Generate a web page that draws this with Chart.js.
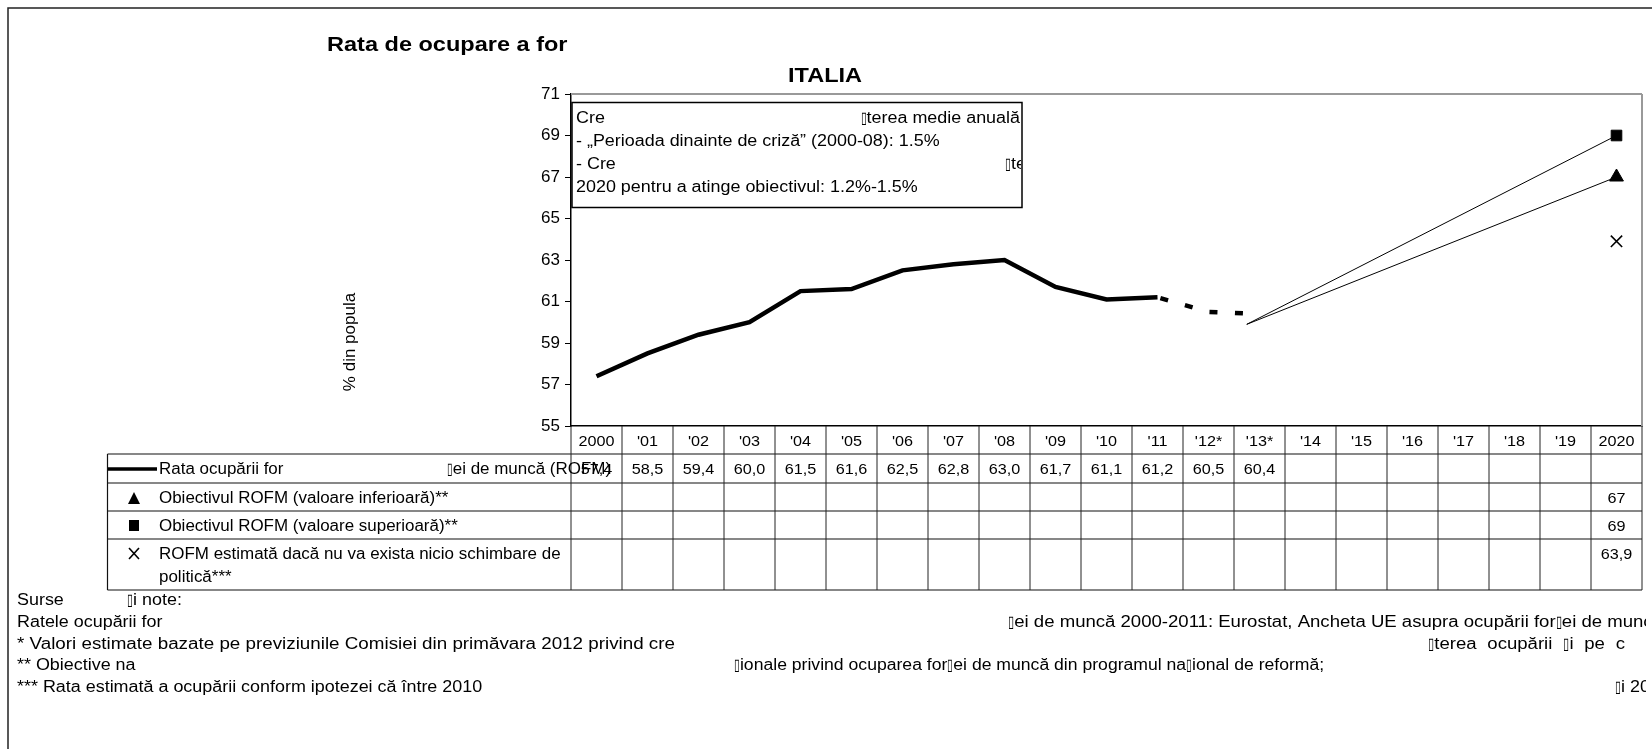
<!DOCTYPE html>
<html>
<head>
<meta charset="utf-8">
<script src="https://cdn.jsdelivr.net/npm/chart.js@4.4.0/dist/chart.umd.min.js"></script>
<style>
  html, body { margin: 0; padding: 0; background: #fff; }
  #wrap { width: 1652px; height: 749px; }
</style>
</head>
<body>
<div id="wrap"><canvas id="chart" width="1652" height="749"></canvas></div>
<script>
// data
const categories = ['2000', "'01", "'02", "'03", "'04", "'05", "'06", "'07", "'08", "'09", "'10",
  "'11", "'12*", "'13*", "'14", "'15", "'16", "'17", "'18", "'19", '2020'];
const rofmValues = [57.4, 58.5, 59.4, 60.0, 61.5, 61.6, 62.5, 62.8, 63.0, 61.7, 61.1, 61.2, 60.5, 60.4];
const lastObserved = 11;      // '11, after this the values are estimates
const pathStartPos = 12.75;   // the thin target paths start a little before '13*
const pathStart = 59.9;
const targetLow = 67;
const targetHigh = 69;
const noPolicyChange = 63.9;
const yMin = 55, yMax = 71, yStep = 2;

const n = categories.length;
const last = n - 1;
const solidLine = categories.map((c, i) => i <= lastObserved ? rofmValues[i] : null);
const dottedLine = categories.map((c, i) => i >= lastObserved && i < rofmValues.length ? rofmValues[i] : null);
const pathHigh = [{ x: pathStartPos, y: pathStart }, { x: last, y: targetHigh }];
const pathLow = [{ x: pathStartPos, y: pathStart }, { x: last, y: targetLow }];
const onlyLast = v => categories.map((c, i) => i === last ? v : null);

const FONT = '"Liberation Sans", Arial, sans-serif';
const BOX = '\u25AF';
const BOX_NARROW = 0.6;

function setFont(ctx, size, bold) {
  ctx.font = (bold ? 'bold ' : '') + size + 'px ' + FONT;
}

function measure(ctx, s, sx) {
  return s.split(/(\u25AF)/).filter(p => p.length)
    .reduce((a, p) => a + ctx.measureText(p).width * sx * (p === BOX ? BOX_NARROW : 1), 0);
}

// text is a bit wider than plain Arial in the original, so stretch it sideways
function txt(ctx, s, x, y, size, sx, opts) {
  opts = opts || {};
  ctx.save();
  setFont(ctx, size, opts.bold);
  ctx.fillStyle = '#000';
  ctx.textBaseline = 'alphabetic';
  ctx.textAlign = 'left';
  const w = measure(ctx, s, sx);
  let x0 = x;
  if (opts.align === 'center') x0 = x - w / 2;
  if (opts.align === 'right') x0 = x - w;
  s.split(/(\u25AF)/).filter(p => p.length).forEach(p => {
    const k = sx * (p === BOX ? BOX_NARROW : 1);
    ctx.save();
    ctx.translate(x0, y);
    ctx.scale(k, 1);
    ctx.fillText(p, 0, 0);
    ctx.restore();
    x0 += ctx.measureText(p).width * k;
  });
  ctx.restore();
}

// spread the words of s between x1 and x2 (justified line)
function txtJustify(ctx, s, x1, x2, y, size, sx) {
  ctx.save();
  setFont(ctx, size);
  const words = s.split(' ');
  const ws = words.map(wd => measure(ctx, wd, sx));
  const gap = (x2 - x1 - ws.reduce((a, b) => a + b, 0)) / (words.length - 1);
  ctx.restore();
  let x = x1;
  words.forEach((wd, k) => {
    txt(ctx, wd, x, y, size, sx);
    x += ws[k] + gap;
  });
}

function line(ctx, x1, y1, x2, y2, w, color) {
  ctx.save();
  ctx.strokeStyle = color || '#000';
  ctx.lineWidth = w;
  ctx.beginPath();
  ctx.moveTo(x1, y1);
  ctx.lineTo(x2, y2);
  ctx.stroke();
  ctx.restore();
}

const BOX_SX = 1.12;   // annotation box
const TAB_SX = 1.06;   // table legend
const NUM_SX = 1.08;   // table numbers
const NOTE_SX = 1.12;  // notes under the table

const tablePlugin = {
  id: 'tablePlugin',
  afterDraw(chart) {
    const ctx = chart.ctx;
    const ca = chart.chartArea;
    const xs = chart.scales.x;
    const half = (xs.getPixelForValue(1) - xs.getPixelForValue(0)) / 2;

    // outer frame (top and left only visible)
    ctx.save();
    ctx.strokeStyle = '#222';
    ctx.lineWidth = 1.5;
    ctx.beginPath();
    ctx.moveTo(8, 749);
    ctx.lineTo(8, 8);
    ctx.lineTo(1652, 8);
    ctx.stroke();
    ctx.restore();

    // plot area top and right edge
    line(ctx, ca.left, ca.top, ca.right, ca.top, 2, '#999');
    line(ctx, ca.right, ca.top, ca.right, ca.bottom, 2, '#999');

    // titles
    txt(ctx, 'Rata de ocupare a for', 327, 51, 21, 1.12, { bold: true });
    txt(ctx, 'ITALIA', 825, 82, 21, 1.12, { bold: true, align: 'center' });

    // y axis title
    ctx.save();
    ctx.translate(350, 342);
    ctx.rotate(-Math.PI / 2);
    ctx.font = '17px ' + FONT;
    ctx.fillStyle = '#000';
    ctx.textAlign = 'center';
    ctx.textBaseline = 'middle';
    ctx.fillText('% din popula', 0, 0);
    ctx.restore();

    // annotation box
    const bx1 = 572, by1 = 102.5, bx2 = 1022, by2 = 207.5;
    ctx.save();
    ctx.fillStyle = '#fff';
    ctx.fillRect(bx1, by1, bx2 - bx1, by2 - by1);
    ctx.strokeStyle = '#000';
    ctx.lineWidth = 1.5;
    ctx.strokeRect(bx1, by1, bx2 - bx1, by2 - by1);
    ctx.beginPath();
    ctx.rect(bx1, by1, bx2 - bx1 - 1, by2 - by1);
    ctx.clip();
    txt(ctx, 'Cre', 576, 123, 16, BOX_SX);
    txt(ctx, BOX + 'terea medie anual\u0103', 1020, 123, 16, BOX_SX, { align: 'right' });
    txt(ctx, '- \u201EPerioada dinainte de criz\u0103\u201D (2000-08): 1.5%', 576, 146, 16, BOX_SX);
    txt(ctx, '- Cre', 576, 168.5, 16, BOX_SX);
    txt(ctx, BOX + 'terea', 1005, 168.5, 16, BOX_SX);
    txt(ctx, '2020 pentru a atinge obiectivul: 1.2%-1.5%', 576, 191.5, 16, BOX_SX);
    ctx.restore();

    // data table
    const tLeft = 107.5;
    const rows = [ca.bottom, 454, 483, 511, 539, 590];
    for (let r = 1; r < rows.length; r++) line(ctx, tLeft, rows[r], ca.right, rows[r], 1.2, '#111');
    line(ctx, tLeft, rows[1], tLeft, rows[5], 1.2, '#111');
    for (let i = 0; i <= n; i++) {
      const x = i < n ? xs.getPixelForValue(i) - half : ca.right;
      line(ctx, x, ca.bottom, x, rows[5], 1, '#222');
    }
    categories.forEach((c, i) => {
      txt(ctx, c, xs.getPixelForValue(i), 446, 15, NUM_SX, { align: 'center' });
    });
    rofmValues.forEach((v, i) => {
      txt(ctx, v.toFixed(1).replace('.', ','), xs.getPixelForValue(i), 474, 15, NUM_SX, { align: 'center' });
    });
    const xl = xs.getPixelForValue(last);
    txt(ctx, String(targetLow).replace('.', ','), xl, 503, 15, NUM_SX, { align: 'center' });
    txt(ctx, String(targetHigh).replace('.', ','), xl, 531, 15, NUM_SX, { align: 'center' });
    txt(ctx, String(noPolicyChange).replace('.', ','), xl, 559, 15, NUM_SX, { align: 'center' });

    // legend column
    line(ctx, 108, 469, 157, 469, 3.5, '#000');
    txt(ctx, 'Rata ocup\u0103rii for', 159, 474, 16, TAB_SX);
    txt(ctx, BOX + 'ei de munc\u0103 (ROFM)', 447, 474, 16, TAB_SX);

    ctx.save();
    ctx.fillStyle = '#000';
    ctx.beginPath();
    ctx.moveTo(128, 504);
    ctx.lineTo(140, 504);
    ctx.lineTo(134, 492);
    ctx.closePath();
    ctx.fill();
    ctx.fillRect(129, 520, 10, 11);
    ctx.restore();
    line(ctx, 129, 548, 139, 559, 1.6, '#000');
    line(ctx, 139, 548, 129, 559, 1.6, '#000');

    txt(ctx, 'Obiectivul ROFM (valoare inferioar\u0103)**', 159, 503, 16, TAB_SX);
    txt(ctx, 'Obiectivul ROFM (valoare superioar\u0103)**', 159, 531, 16, TAB_SX);
    txt(ctx, 'ROFM estimat\u0103 dac\u0103 nu va exista nicio schimbare de', 159, 559, 16, TAB_SX);
    txt(ctx, 'politic\u0103***', 159, 582, 16, TAB_SX);

    // notes
    ctx.save();
    ctx.beginPath();
    ctx.rect(0, 592, 1646, 157);
    ctx.clip();
    txt(ctx, 'Surse', 17, 605, 16, NOTE_SX);
    txt(ctx, BOX + 'i note:', 127, 605, 16, NOTE_SX);
    txt(ctx, 'Ratele ocup\u0103rii for', 17, 627, 16, NOTE_SX);
    txt(ctx, BOX + 'ei de munc\u0103 2000-2011: Eurostat, Ancheta UE asupra ocup\u0103rii for' + BOX + 'ei de munc\u0103', 1008, 627, 16, 1.16);
    txt(ctx, '* Valori estimate bazate pe previziunile Comisiei din prim\u0103vara 2012 privind cre', 17, 649, 16, 1.175);
    txtJustify(ctx, BOX + 'terea ocup\u0103rii ' + BOX + 'i pe c', 1428, 1625, 649, 16, 1.16);
    txt(ctx, '** Obiective na', 17, 670, 16, NOTE_SX);
    txt(ctx, BOX + 'ionale privind ocuparea for' + BOX + 'ei de munc\u0103 din programul na' + BOX + 'ional de reform\u0103;', 734, 670, 16, 1.1);
    txt(ctx, '*** Rata estimat\u0103 a ocup\u0103rii conform ipotezei c\u0103 \u00EEntre 2010', 17, 692, 16, NOTE_SX);
    txt(ctx, BOX + 'i 2020', 1615, 692, 16, NOTE_SX);
    ctx.restore();
  }
};

new Chart(document.getElementById('chart').getContext('2d'), {
  type: 'line',
  data: {
    labels: categories,
    datasets: [
      { label: 'ROFM', data: solidLine, borderColor: '#000', borderWidth: 4.5, pointRadius: 0, tension: 0 },
      { label: 'ROFM estimat', data: dottedLine, borderColor: '#000', borderWidth: 4.5,
        borderDash: [8, 17.5], borderDashOffset: -3, pointRadius: 0 },
      { label: 'drum sup', data: pathHigh, xAxisID: 'xi', borderColor: '#000', borderWidth: 1, pointRadius: 0 },
      { label: 'drum inf', data: pathLow, xAxisID: 'xi', borderColor: '#000', borderWidth: 1, pointRadius: 0 },
      { label: 'Obiectivul ROFM (valoare inferioar\u0103)', data: onlyLast(targetLow), showLine: false,
        pointStyle: 'triangle', pointRadius: 8, backgroundColor: '#000', borderColor: '#000' },
      { label: 'Obiectivul ROFM (valoare superioar\u0103)', data: onlyLast(targetHigh), showLine: false,
        pointStyle: 'rect', pointRadius: 7.5, backgroundColor: '#000', borderColor: '#000' },
      { label: 'ROFM f\u0103r\u0103 schimbare', data: onlyLast(noPolicyChange), showLine: false,
        pointStyle: 'crossRot', pointRadius: 8, borderWidth: 1.6, borderColor: '#000' }
    ]
  },
  options: {
    responsive: false,
    animation: false,
    events: [],
    layout: { padding: { left: 0, top: 94, right: 10, bottom: 323 } },
    plugins: { legend: { display: false }, tooltip: { enabled: false } },
    scales: {
      x: {
        offset: true,
        grid: { display: false },
        ticks: { display: false },
        border: { display: true, color: '#000', width: 1.5 },
        afterFit: s => { s.height = 0; }
      },
      // same positions as the category axis, but lets the target paths start between years
      xi: {
        type: 'linear',
        display: false,
        min: -0.5,
        max: n - 0.5
      },
      y: {
        min: yMin,
        max: yMax,
        ticks: { stepSize: yStep, color: '#000', padding: 5, font: { family: FONT, size: 17 } },
        grid: { drawOnChartArea: false, drawTicks: true, tickLength: 6, color: '#000' },
        border: { display: true, color: '#000', width: 1.5 },
        afterFit: s => { s.width = 571; }
      }
    }
  },
  plugins: [tablePlugin]
});
</script>
</body>
</html>
